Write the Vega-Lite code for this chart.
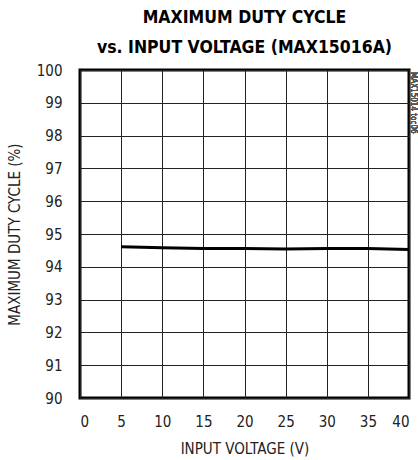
{
  "$schema": "https://vega.github.io/schema/vega-lite/v6.json",
  "autosize": "none",
  "width": 329,
  "height": 328,
  "padding": {"left": 80, "top": 70, "right": 9, "bottom": 62},
  "background": "white",
  "config": {
    "view": {"stroke": "black", "strokeWidth": 3},
    "font": "DejaVu Sans Condensed, sans-serif",
    "axis": {
      "grid": true, "gridColor": "#222", "gridWidth": 1,
      "domain": false, "ticks": false, "labelOverlap": false,
      "labelFont": "DejaVu Sans Condensed, sans-serif", "labelFontSize": 15, "labelColor": "#222",
      "titleFont": "DejaVu Sans Condensed, sans-serif", "titleFontSize": 15, "titleFontWeight": "normal", "titleColor": "#222"
    }
  },
  "title": {
    "text": ["MAXIMUM DUTY CYCLE", "vs. INPUT VOLTAGE (MAX15016A)"],
    "font": "DejaVu Sans Condensed, sans-serif",
    "fontSize": 17.5,
    "fontWeight": "bold",
    "color": "black",
    "anchor": "middle",
    "lineHeight": 30,
    "offset": 7
  },
  "data": {
    "values": [
      {"v": 5, "d": 94.61},
      {"v": 10, "d": 94.58},
      {"v": 15, "d": 94.56},
      {"v": 20, "d": 94.56},
      {"v": 25, "d": 94.54},
      {"v": 30, "d": 94.56},
      {"v": 35, "d": 94.56},
      {"v": 40, "d": 94.53}
    ]
  },
  "layer": [
    {
      "mark": {"type": "line", "color": "black", "strokeWidth": 3},
      "encoding": {
        "x": {
          "field": "v", "type": "quantitative",
          "scale": {"domain": [0, 40], "nice": false},
          "axis": {
            "title": "INPUT VOLTAGE (V)",
            "values": [0, 5, 10, 15, 20, 25, 30, 35, 40],
            "labelPadding": 16, "titlePadding": 12
          }
        },
        "y": {
          "field": "d", "type": "quantitative",
          "scale": {"domain": [90, 100], "nice": false, "zero": false},
          "axis": {
            "title": "MAXIMUM DUTY CYCLE (%)",
            "values": [90, 91, 92, 93, 94, 95, 96, 97, 98, 99, 100],
            "labelPadding": 18, "titlePadding": 14
          }
        }
      }
    },
    {
      "mark": {"type": "text", "text": "MAX15014 toc06", "angle": 90, "align": "left", "baseline": "middle", "fontSize": 8, "color": "#555", "xOffset": 4, "yOffset": 2},
      "encoding": {
        "x": {"datum": 40, "type": "quantitative",
          "axis": {"title": "INPUT VOLTAGE (V)", "values": [0, 5, 10, 15, 20, 25, 30, 35, 40], "labelPadding": 16, "titlePadding": 12}},
        "y": {"datum": 100, "type": "quantitative",
          "axis": {"title": "MAXIMUM DUTY CYCLE (%)", "values": [90, 91, 92, 93, 94, 95, 96, 97, 98, 99, 100], "labelPadding": 18, "titlePadding": 14}}
      }
    }
  ]
}
